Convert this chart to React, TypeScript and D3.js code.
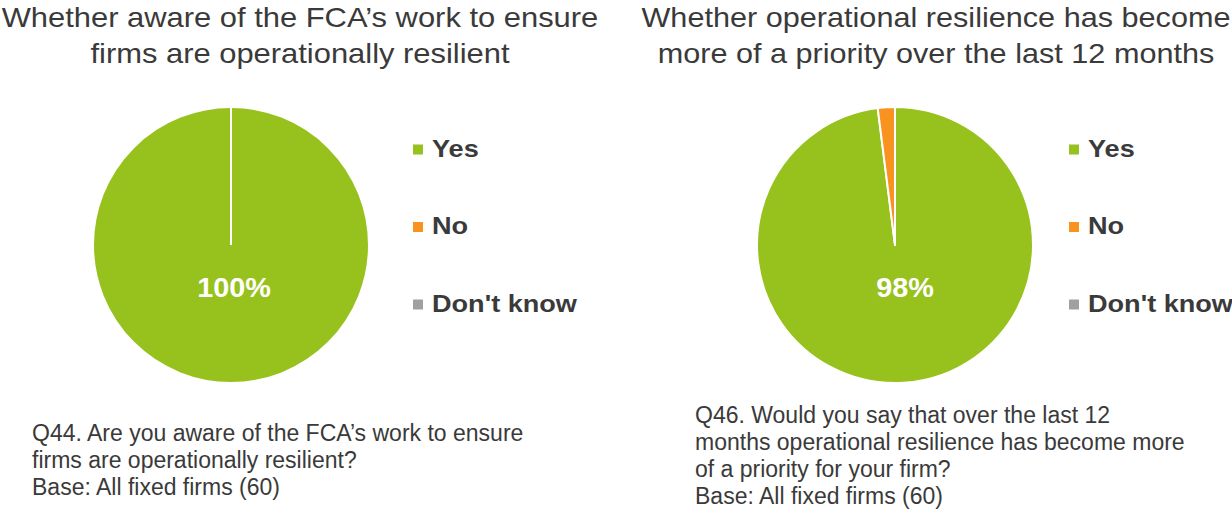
import React from "react";
import * as d3 from "d3";

const categories = ["Yes", "No", "Don't know"];
const colors = ["#97C21E", "#F7931E", "#A0A0A0"];
const chart1Values = [100, 0, 0];
const chart2Values = [98, 2, 0];
const chart1Title = ["Whether aware of the FCA\u2019s work to ensure", "firms are operationally resilient"];
const chart2Title = ["Whether operational resilience has become", "more of a priority over the last 12 months"];
const chart1Label = "100%";
const chart2Label = "98%";
const chart1Note = ["Q44. Are you aware of the FCA\u2019s work to ensure", "firms are operationally resilient?", "Base: All fixed firms (60)"];
const chart2Note = ["Q46. Would you say that over the last 12", "months operational resilience has become more", "of a priority for your firm?", "Base: All fixed firms (60)"];

const FONT = "'Liberation Sans', Arial, sans-serif";
const TEXT = "#3a3a3a";

function stretch(x: number, s: number) {
  return `translate(${x},0) scale(${s},1) translate(${-x},0)`;
}

function Pie({ cx, cy, r, values, label, labelDx }: { cx: number; cy: number; r: number; values: number[]; label: string; labelDx: number }) {
  const pie = d3.pie<number>().sort(null).value((d) => d);
  const arcs = pie(values);
  const arc = d3.arc<d3.PieArcDatum<number>>().innerRadius(0).outerRadius(r);
  return (
    <g transform={`translate(${cx},${cy})`}>
      {arcs.map((a, i) =>
        a.endAngle - a.startAngle > 0 ? (
          <path key={i} d={arc(a) || ""} fill={colors[i]} stroke="#fff" strokeWidth={2} strokeLinejoin="round" />
        ) : null
      )}
      <line x1={0} y1={0} x2={0} y2={-r} stroke="#fff" strokeWidth={2} />
      <g transform={stretch(labelDx, 1.03)}>
        <text x={labelDx} y={52} textAnchor="middle" fill="#fff" fontFamily={FONT} fontWeight="bold" fontSize={28}>
          {label}
        </text>
      </g>
    </g>
  );
}

function Legend({ x, y }: { x: number; y: number }) {
  return (
    <g transform={`translate(${x},${y})`}>
      {categories.map((c, i) => (
        <g key={c} transform={`translate(0,${i * 77.5})`}>
          <rect x={0} y={-12} width={10} height={10} fill={colors[i]} />
          <g transform={stretch(19, 1.13)}>
            <text x={19} y={0} fill={TEXT} fontFamily={FONT} fontWeight="bold" fontSize={24}>
              {c}
            </text>
          </g>
        </g>
      ))}
    </g>
  );
}

function Lines({ x, y, lines, size, gap, anchor, s }: { x: number; y: number; lines: string[]; size: number; gap: number; anchor: string; s: number }) {
  return (
    <g transform={stretch(x, s)}>
      <text fill={TEXT} fontFamily={FONT} fontSize={size} textAnchor={anchor as any}>
        {lines.map((l, i) => (
          <tspan key={i} x={x} y={y + i * gap}>
            {l}
          </tspan>
        ))}
      </text>
    </g>
  );
}

export default function App() {
  return (
    <svg width={1232} height={517} style={{ position: "absolute", left: 0, top: 0, background: "#fff" }}>
      <rect width={1232} height={517} fill="#fff" />
      <Lines x={300} y={27} lines={chart1Title} size={28.5} gap={36} anchor="middle" s={1.085} />
      <Lines x={936} y={27} lines={chart2Title} size={28.5} gap={36} anchor="middle" s={1.075} />
      <Pie cx={231} cy={245} r={138} values={chart1Values} label={chart1Label} labelDx={3} />
      <Pie cx={895} cy={245} r={138} values={chart2Values} label={chart2Label} labelDx={10} />
      <Legend x={413} y={156.5} />
      <Legend x={1069} y={156.5} />
      <Lines x={32} y={441} lines={chart1Note} size={23} gap={27} anchor="start" s={1.0} />
      <Lines x={695} y={423} lines={chart2Note} size={23} gap={27} anchor="start" s={1.0} />
    </svg>
  );
}
